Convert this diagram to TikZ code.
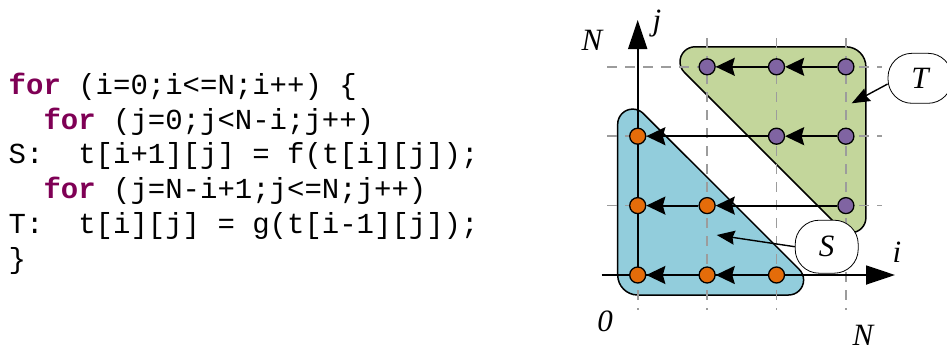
\documentclass[tikz,border=0pt]{standalone}
\usepackage{fontspec}
\usetikzlibrary{arrows.meta}
\newfontfamily\codefont{Liberation Mono}
\newfontfamily\labfont{Liberation Serif}
\definecolor{kwc}{HTML}{7F0055}
\definecolor{sfill}{HTML}{92CDDC}
\definecolor{tfill}{HTML}{C3D69B}
\definecolor{odot}{HTML}{E46C0A}
\definecolor{pdot}{HTML}{8064A2}
\definecolor{gridc}{HTML}{9C9C9C}
\newcommand\kw[1]{\textcolor{kwc}{\bfseries #1}}
\begin{document}
\begin{tikzpicture}[x=1pt,y=-1pt,
 code/.style={anchor=base west, inner sep=0pt, font=\codefont\fontsize{29}{35}\selectfont},
 lab/.style={anchor=base, inner sep=0pt, font=\labfont\itshape\fontsize{31}{37}\selectfont},
 region/.style={draw=black, line width=1.5pt},
 gridline/.style={draw=gridc, line width=1.6pt, dash pattern=on 10pt off 8pt},
 axis/.style={line width=1.8pt, -{Triangle[length=29pt,width=19pt]}},
 dep/.style={line width=1.8pt, -{Stealth[length=19pt,width=18pt,inset=2.5pt]}},
 dotS/.style={circle, draw=black, line width=1.3pt, fill=odot, minimum size=16pt, inner sep=0pt},
 dotT/.style={dotS, fill=pdot},
 bubble/.style={draw=black, fill=white, line width=0.8pt, rounded corners=24pt, inner sep=0pt, font=\labfont\itshape\fontsize{31}{37}\selectfont},
 leader/.style={line width=1.4pt, -{Stealth[length=18pt,width=14pt,inset=2pt]}}
]
\useasboundingbox (0,0) rectangle (947,351);
\clip (0,0) rectangle (947,351);

% code
\node[code] (c1) at (8.5,94.3)   {\kw{for} (i=0;i<=N;i++) \{};
\node[code] (c2) at (8.5,129.05) {~~\kw{for} (j=0;j<N-i;j++)};
\node[code] (c3) at (8.5,163.8)  {S:~~t[i+1][j]~=~f(t[i][j]);};
\node[code] (c4) at (8.5,198.55) {~~\kw{for} (j=N-i+1;j<=N;j++)};
\node[code] (c5) at (8.5,233.3)  {T:~~t[i][j]~=~g(t[i-1][j]);};
\node[code] (c6) at (8.5,268.05) {\}};

% regions
\path[region, fill=sfill] (637.7,295) -- (788.6,295)
  arc[start angle=90, end angle=-45, radius=15] -- (643.3,113.5)
  arc[start angle=-45, end angle=-180, radius=15] -- (617.7,275)
  arc[start angle=180, end angle=90, radius=20] -- cycle;
\path[region, fill=tfill] (684.4,72.4)
  arc[start angle=135, end angle=270, radius=15] -- (845.9,46.8)
  arc[start angle=270, end angle=360, radius=20] -- (865.9,217.7)
  arc[start angle=0, end angle=135, radius=15] -- cycle;

% grid
\foreach \gx in {637.7,707.1,776.5,845.9} \draw[gridline] (\gx,38) -- (\gx,310);
\foreach \gy in {205.6,136.2,66.8} \draw[gridline] (607,\gy) -- (882,\gy);

% axes
\coordinate (o) at (637.7,275);
\coordinate (jt) at (637.7,20);
\coordinate (xs) at (601.7,275);
\coordinate (it) at (895,275);
\draw[axis] (xs) -- (it);
\draw[axis] (o) -- (jt);

% points
\node[dotS] (s00) at (637.7,275) {};
\node[dotS] (s10) at (707.1,275) {};
\node[dotS] (s20) at (776.5,275) {};
\node[dotS] (s01) at (637.7,205.6) {};
\node[dotS] (s11) at (707.1,205.6) {};
\node[dotS] (s02) at (637.7,136.2) {};
\node[dotT] (t31) at (845.9,205.6) {};
\node[dotT] (t22) at (776.5,136.2) {};
\node[dotT] (t32) at (845.9,136.2) {};
\node[dotT] (t13) at (707.1,66.8) {};
\node[dotT] (t23) at (776.5,66.8) {};
\node[dotT] (t33) at (845.9,66.8) {};

% dependences
\draw[dep] (s20) -- (s10);
\draw[dep] (s10) -- (s00);
\draw[dep] (t31) -- (s11);
\draw[dep] (s11) -- (s01);
\draw[dep] (t32) -- (t22);
\draw[dep] (t22) -- (s02);
\draw[dep] (t33) -- (t23);
\draw[dep] (t23) -- (t13);

% labels
\node[lab] (lNj) at (592,50) {N};
\node[lab] (lj) at (657,30.5) {j};
\node[lab] (li) at (897,262) {i};
\node[lab] (l0) at (605,331.5) {0};
\node[lab] (lNi) at (863,345) {N};

% callouts
\node[bubble, minimum width=63pt, minimum height=53pt] (sb) at (826.7,246.7) {S};
\node[bubble, minimum width=64pt, minimum height=50pt] (tb) at (920,78.3) {T};
\coordinate (stip) at (716.7,235);
\coordinate (ttip) at (851.7,103.3);
\draw[leader] (sb.west) -- (stip);
\draw[leader] (tb.190) -- (ttip);
\end{tikzpicture}
\end{document}
